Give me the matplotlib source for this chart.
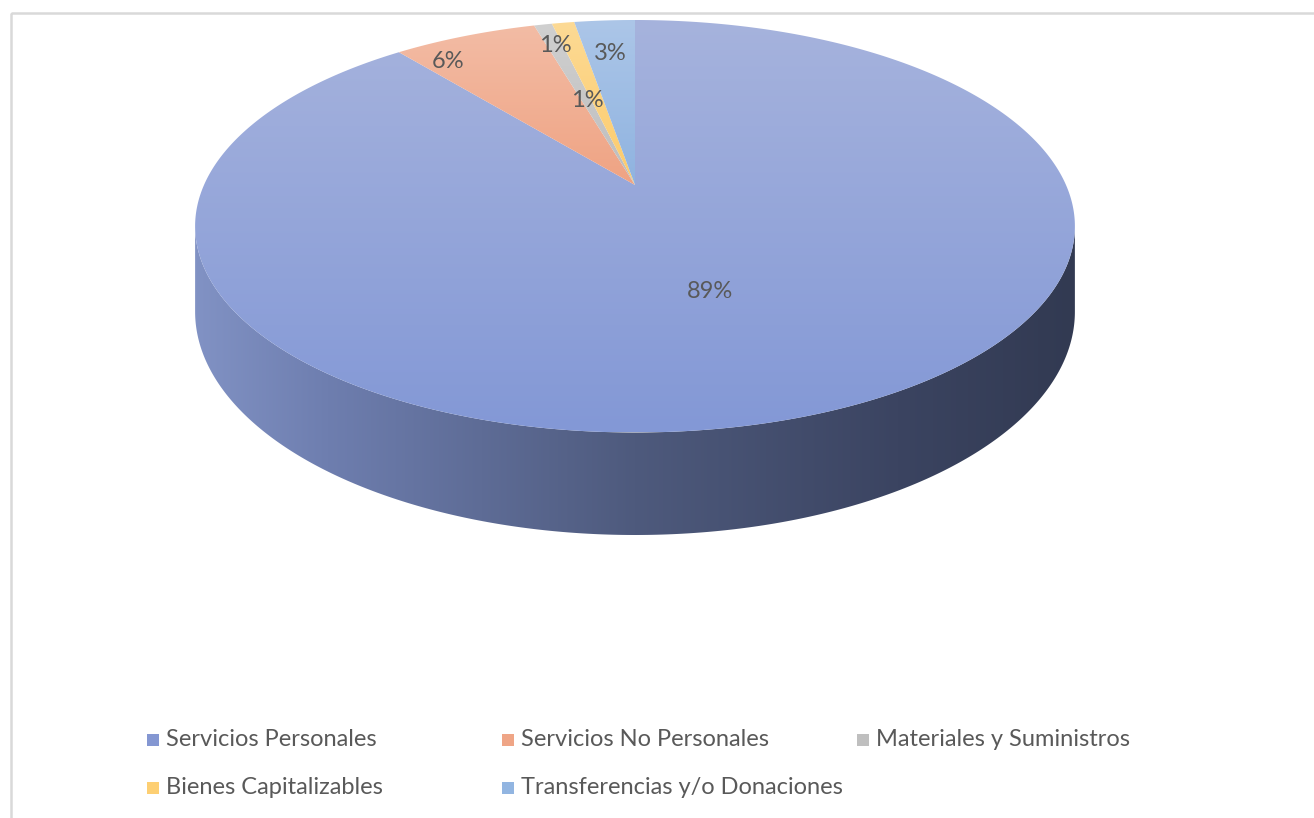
import numpy as np
import matplotlib
matplotlib.use('Agg')
import matplotlib.pyplot as plt
from matplotlib.patches import Polygon, Rectangle
from matplotlib.colors import to_rgb, LinearSegmentedColormap


# data
categories = ['Servicios Personales', 'Servicios No Personales', 'Materiales y Suministros',
              'Bienes Capitalizables', 'Transferencias y/o Donaciones']
values = [89.1, 6.4, 0.8, 1.0, 2.7]
pct_labels = ['89%', '6%', '1%', '1%', '3%']

# colours (top of slice -> bottom of slice gradient)
col_top = ['#A6B3DD', '#F3BCA5', '#D0D0D0', '#FDDA95', '#ACC6E8']
col_bot = ['#8398D6', '#EFA383', '#BDBDBD', '#FCCB6A', '#8FB3E0']
col_leg = ['#8497D2', '#EFA586', '#BFBFBF', '#FDCF73', '#92B5E1']

# geometry of the tilted pie (pixels)
cx, cy = 635, 185
sx, sy = 431, 198
persp = 0.2
depth = 82
# label placement: (angle shift in deg, radial fraction)
lab_shift = [1.7, -7, 0, -3.2, 0]
lab_r = [0.51, 0.87, 0.85, 0.48, 0.77]


def proj(phi_deg, r=1.0, drop=0.0):
    # phi clockwise from 12 o'clock, far side shrunk by perspective
    phi = np.radians(phi_deg)
    X = r * np.sin(phi)
    Z = r * np.cos(phi)
    w = 1 + persp * Z
    return cx + sx * X / w, cy - sy * Z / w + drop / w


def grad_fill(ax, xy, c0, c1, cmap=None):
    poly = Polygon(xy, closed=True, fc='none', ec='none')
    ax.add_patch(poly)
    x0, x1 = xy[:, 0].min(), xy[:, 0].max()
    y0, y1 = xy[:, 1].min(), xy[:, 1].max()
    t = np.linspace(0, 1, 256)
    if cmap is not None:
        img = cmap(t)[None, :, :3]   # horizontal
    else:
        a, b = np.array(to_rgb(c0)), np.array(to_rgb(c1))
        img = (a[None, :] * (1 - t[:, None]) + b[None, :] * t[:, None])[:, None, :]
    im = ax.imshow(img, extent=(x0, x1, y1, y0), origin='upper',
                   aspect='auto', interpolation='bilinear', zorder=poly.get_zorder())
    im.set_clip_path(poly)


fig = plt.figure(figsize=(13.14, 8.18), dpi=100)
ax = fig.add_axes([0, 0, 1, 1])

# chart border
ax.add_patch(Rectangle((11, 13), 1320, 830, fill=False, ec='#D9D9D9', lw=1.8))

# side wall (front rim)
ph_r = np.degrees(np.arccos(-persp))
ph = np.linspace(ph_r, 360 - ph_r, 300)
tx, ty = proj(ph)
bx, by = proj(ph[::-1], drop=depth)
side = np.column_stack([np.r_[tx, bx], np.r_[ty, by]])
side_cmap = LinearSegmentedColormap.from_list(
    'side', [(0, '#8192C4'), (0.15, '#6E7EAF'), (0.5, '#4E5A7D'),
             (0.8, '#3B4461'), (1, '#323A52')])
grad_fill(ax, side, None, None, cmap=side_cmap)

# top faces
start = 0.0
total = sum(values)
for i, v in enumerate(values):
    span = 360 * v / total
    arc = np.linspace(start, start + span, max(int(span * 2), 4))
    ax_, ay_ = proj(arc)
    xy = np.column_stack([np.r_[cx, ax_], np.r_[cy, ay_]])
    grad_fill(ax, xy, col_top[i], col_bot[i])
    lx, ly = proj(start + span / 2 + lab_shift[i], lab_r[i])
    ax.text(lx, ly, pct_labels[i], ha='center', va='center', fontsize=17,
            color='#595959', family='Lato', zorder=5)
    start += span

# legend, 3 columns row-major like the original
for i, name in enumerate(categories):
    row, col = divmod(i, 3)
    lx = 147 + col * 355
    ly = 740 + row * 48
    ax.add_patch(Rectangle((lx, ly - 6), 12, 12, fc=col_leg[i], ec='none'))
    ax.text(lx + 19, ly, name, ha='left', va='center', fontsize=17,
            color='#595959', family='Lato')

ax.set_xlim(0, 1314)
ax.set_ylim(818, 0)
ax.axis('off')

fig.savefig('out.png', dpi=100)
